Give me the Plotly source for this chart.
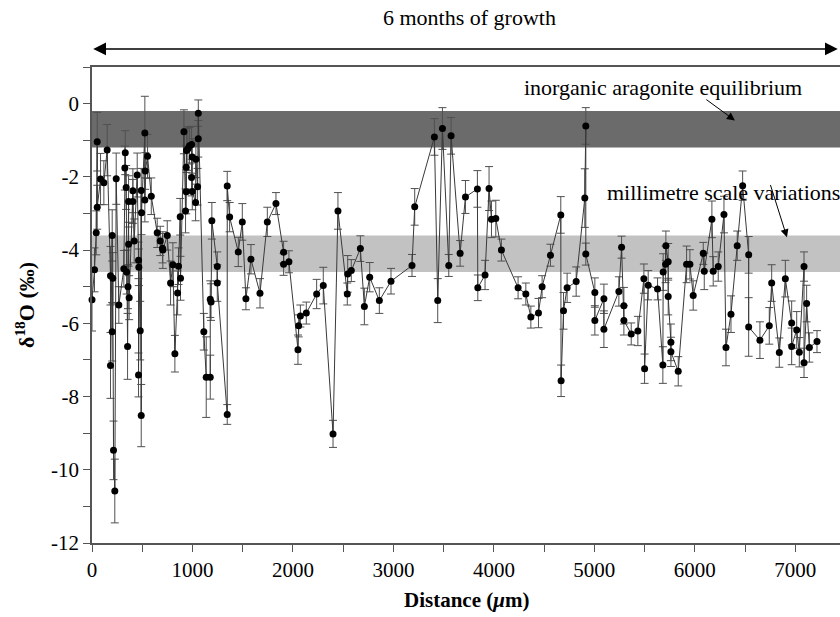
import plotly.graph_objects as go

# Oxygen isotope profile along the growth axis
distance_um = [
    0, 25, 42, 52, 52, 85, 118, 151, 184, 184, 201, 201, 207, 214, 227, 241, 267,
    317, 327, 331, 340, 345, 354, 358, 364, 364, 370, 407, 407, 420, 450, 463, 463,
    466, 480, 490, 490, 493, 526, 526, 530, 553, 590, 649, 679, 702, 705, 749, 782,
    805, 825, 852, 861, 878, 881, 915, 931, 938, 938, 941, 954, 971, 991, 991, 998,
    998, 1031, 1034, 1051, 1058, 1058, 1113, 1137, 1177, 1177, 1185, 1193, 1247,
    1247, 1346, 1346, 1370, 1456, 1496, 1532, 1582, 1672, 1745, 1831, 1907, 1907,
    1960, 2050, 2057, 2074, 2133, 2236, 2302, 2399, 2448, 2541, 2545, 2581, 2671,
    2711, 2764, 2860, 2976, 3185, 3212, 3408, 3441, 3488, 3551, 3574, 3664, 3717,
    3836, 3840, 3912, 3952, 3976, 4019, 4075, 4241, 4318, 4368, 4444, 4480, 4563,
    4666, 4669, 4693, 4729, 4819, 4905, 4915, 4915, 5005, 5005, 5095, 5095, 5244,
    5271, 5294, 5294, 5367, 5433, 5493, 5500, 5536, 5629, 5682, 5685, 5709, 5712,
    5735, 5735, 5762, 5762, 5835, 5918, 5951, 5984, 6084, 6094, 6170, 6183, 6233,
    6290, 6310, 6360, 6422, 6476, 6536, 6536, 6648, 6741, 6765, 6841, 6901, 6964,
    6964, 7014, 7040, 7087, 7087, 7113, 7140, 7216,
]
d18o = [
    -5.36, -4.54, -3.53, -1.04, -2.83, -2.06, -2.16, -1.27, -4.70, -7.15, -3.60,
    -6.23, -4.77, -9.47, -10.58, -2.05, -5.50, -4.51, -1.76, -1.34, -2.29, -4.60,
    -6.63, -5.00, -2.67, -3.84, -5.30, -2.38, -2.67, -3.75, -1.95, -4.28, -7.41,
    -4.47, -6.20, -2.37, -8.52, -2.98, -0.80, -2.63, -1.84, -1.44, -2.53, -3.53,
    -3.75, -3.95, -4.00, -3.60, -4.90, -4.40, -6.83, -5.17, -4.44, -3.09, -4.77,
    -0.77, -2.93, -1.74, -2.41, -1.28, -1.23, -1.15, -1.12, -2.02, -1.46, -2.40,
    -2.70, -1.52, -2.27, -0.96, -0.26, -6.23, -7.47, -7.47, -5.34, -5.42, -3.20,
    -4.45, -4.90, -8.49, -2.25, -3.10, -4.05, -3.23, -5.33, -4.25, -5.18, -3.23,
    -2.73, -4.06, -4.39, -4.32, -6.72, -6.07, -5.80, -5.72, -5.20, -4.97, -9.02,
    -2.93, -5.20, -4.65, -4.56, -3.96, -5.54, -4.74, -5.38, -4.85, -4.42, -2.82,
    -0.91, -5.38, -0.68, -4.42, -0.88, -4.09, -2.55, -2.33, -5.03, -4.68, -2.32,
    -3.16, -3.14, -4.00, -5.03, -5.20, -5.83, -5.72, -5.00, -4.14, -3.04, -7.57,
    -5.66, -5.03, -4.86, -2.58, -0.61, -4.11, -5.16, -5.92, -5.33, -6.16, -5.13,
    -3.92, -5.52, -5.92, -6.29, -6.21, -4.78, -7.24, -4.96, -5.06, -7.14, -4.60,
    -4.39, -3.88, -4.32, -5.27, -6.52, -6.78, -7.31, -4.39, -4.39, -5.24, -4.09,
    -4.58, -3.16, -4.58, -4.45, -3.03, -6.66, -5.75, -3.88, -2.24, -4.13, -6.10,
    -6.46, -6.07, -4.90, -6.80, -4.78, -5.99, -6.63, -6.18, -6.79, -4.45, -7.08,
    -5.46, -6.66, -6.50,
]
d18o_err = [
    0.85, 0.60, 0.60, 0.80, 0.60, 0.70, 0.60, 0.70, 0.80, 0.90, 0.70, 0.80, 0.70,
    0.80, 0.87, 0.70, 0.50, 0.50, 0.60, 0.60, 0.60, 0.60, 0.90, 0.60, 0.70, 0.60,
    0.60, 0.60, 0.60, 0.60, 0.60, 0.50, 0.60, 0.50, 0.80, 0.60, 0.85, 0.60, 1.00,
    0.60, 0.50, 0.60, 0.50, 0.40, 0.40, 0.40, 0.50, 0.40, 0.60, 0.60, 0.50, 0.60,
    0.50, 0.50, 0.60, 0.60, 0.60, 0.60, 0.60, 0.60, 0.60, 0.50, 0.50, 0.50, 0.50,
    0.50, 0.50, 0.50, 0.50, 0.50, 0.36, 0.50, 1.10, 0.60, 0.50, 0.50, 0.50, 0.40,
    0.50, 0.27, 0.40, 0.40, 0.40, 0.50, 0.30, 0.40, 0.40, 0.40, 0.30, 0.30, 0.30,
    0.30, 0.40, 0.30, 0.30, 0.30, 0.40, 0.50, 0.37, 0.50, 0.30, 0.50, 0.30, 0.35,
    0.50, 0.40, 0.35, 0.35, 0.30, 0.50, 0.50, 0.60, 0.57, 0.30, 0.50, 0.35, 0.45,
    0.50, 0.35, 0.40, 0.60, 0.50, 0.50, 0.30, 0.30, 0.30, 0.30, 0.40, 0.30, 0.30,
    0.50, 0.43, 0.50, 0.40, 0.40, 0.80, 0.50, 0.30, 0.40, 0.40, 0.40, 0.50, 0.40,
    0.30, 0.50, 0.40, 0.30, 0.40, 0.40, 0.40, 0.40, 0.30, 0.50, 0.50, 0.50, 0.40,
    0.50, 0.50, 0.50, 0.40, 0.40, 0.50, 0.40, 0.40, 0.30, 0.50, 0.50, 0.40, 0.40,
    0.50, 0.50, 0.50, 0.40, 0.40, 0.50, 0.80, 0.50, 0.50, 0.50, 0.40, 0.50, 0.60,
    0.50, 0.50, 0.40, 0.40, 0.40, 0.50, 0.40, 0.30,
]

# Reference bands (per mil)
equilibrium_band = [-0.2, -1.2]
mm_scale_band = [-3.6, -4.6]

x_tick_vals = [0, 1000, 2000, 3000, 4000, 5000, 6000, 7000]
y_tick_vals = [0, -2, -4, -6, -8, -10, -12]
y_tick_text = ["0", "-2", "-4", "-6", "-8", "-10", "-12"]

X_MAX = 7445
FONT = "Liberation Serif, Times New Roman, serif"

fig = go.Figure()

fig.add_trace(go.Scatter(
    x=distance_um,
    y=d18o,
    mode="lines+markers",
    line=dict(color="#3a3a3a", width=1),
    marker=dict(color="black", size=7),
    error_y=dict(type="data", array=d18o_err, visible=True,
                 color="#505050", thickness=1, width=4),
    showlegend=False,
    cliponaxis=False,
))

fig.add_shape(type="rect", xref="x", yref="y", x0=0, x1=X_MAX,
              y0=equilibrium_band[0], y1=equilibrium_band[1],
              fillcolor="#6b6b6b", line=dict(width=0), layer="below")
fig.add_shape(type="rect", xref="x", yref="y", x0=0, x1=X_MAX,
              y0=mm_scale_band[0], y1=mm_scale_band[1],
              fillcolor="#c2c2c2", line=dict(width=0), layer="below")

txt = dict(family=FONT, size=22, color="black")

# growth-period double arrow above the plot
fig.add_annotation(x=0.997, y=1.038, xref="paper", yref="paper",
                   ax=-746, ay=0, text="", showarrow=True,
                   arrowhead=2, arrowside="end+start", arrowsize=1.7,
                   arrowwidth=1.5, arrowcolor="black")
fig.add_annotation(x=0.505, y=1.104, xref="paper", yref="paper",
                   text="6 months of growth", showarrow=False,
                   font=txt, xanchor="center", yanchor="middle")

fig.add_annotation(x=5682, y=0.44, xref="x", yref="y",
                   text="inorganic aragonite equilibrium", showarrow=False,
                   font=txt, xanchor="center", yanchor="middle")
fig.add_annotation(x=6399, y=-0.46, ax=6100, ay=0.14, xref="x", yref="y",
                   axref="x", ayref="y", text="", showarrow=True,
                   arrowhead=2, arrowsize=1.6, arrowwidth=1, arrowcolor="black")

fig.add_annotation(x=5105, y=-2.42, xref="x", yref="y",
                   text="millimetre scale variations", showarrow=False,
                   font=txt, xanchor="left", yanchor="middle")
fig.add_annotation(x=6917, y=-3.65, ax=6748, ay=-2.18, xref="x", yref="y",
                   axref="x", ayref="y", text="", showarrow=True,
                   arrowhead=2, arrowsize=1.6, arrowwidth=1, arrowcolor="black")

# axis titles
fig.add_annotation(x=0.5, y=0, xref="paper", yref="paper", yshift=-57,
                   text="<b>Distance (<i>μ</i>m)</b>", showarrow=False,
                   font=dict(family=FONT, size=21, color="black"),
                   xanchor="center", yanchor="middle")
fig.add_annotation(x=0, y=0.5, xref="paper", yref="paper", xshift=-67,
                   text="<b>δ<sup>18</sup>O (‰)</b>", showarrow=False,
                   textangle=-90,
                   font=dict(family=FONT, size=22, color="black"),
                   xanchor="center", yanchor="middle")

fig.update_xaxes(range=[0, X_MAX], tickvals=x_tick_vals, ticks="outside",
                 ticklen=7, tickcolor="#555", showline=True, linecolor="#555",
                 linewidth=1.5, mirror=True, showgrid=False, zeroline=False,
                 tickfont=dict(family=FONT, size=21, color="black"),
                 minor=dict(dtick=500, ticks="outside", ticklen=7,
                            tickcolor="#555"))
fig.update_yaxes(range=[-12, 1], tickvals=y_tick_vals, ticktext=y_tick_text,
                 ticks="outside", ticklen=7, tickcolor="#555", showline=True,
                 linecolor="#555", linewidth=1.5, mirror=False, showgrid=False,
                 zeroline=False,
                 tickfont=dict(family=FONT, size=21, color="black"),
                 minor=dict(dtick=1, ticks="outside", ticklen=7,
                            tickcolor="#555"))

fig.update_layout(
    width=840, height=617,
    margin=dict(l=92, r=0, t=67, b=74),
    paper_bgcolor="white", plot_bgcolor="white",
    font=dict(family=FONT, color="black"),
)

fig.write_html("out.html")
